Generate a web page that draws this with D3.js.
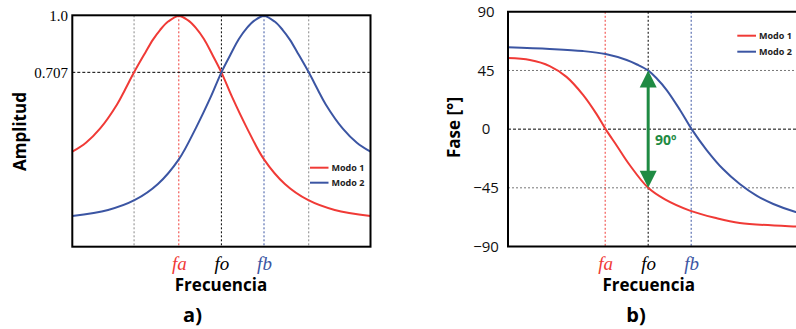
<!DOCTYPE html>
<html><head><meta charset="utf-8">
<script src="https://cdn.jsdelivr.net/npm/d3@7"></script>
<style>
html,body{margin:0;padding:0;background:#fff;}
svg{display:block;}
</style></head>
<body>
<svg id="c" width="796" height="329"></svg>
<script>
// ---------- data ----------
const freqTicks = [-1, 0, 1];
const freqTickLabels = ["fa", "fo", "fb"];
const halfPowerFreqs = [-2.05, 2.05];
const ampTicks = [1.0, 0.707];
const ampTickLabels = ["1.0", "0.707"];
const phaseTicks = [90, 45, 0, -45, -90];
const seriesNames = ["Modo 1", "Modo 2"];

const freqA1 = [-3.5,-3.18,-2.85,-2.45,-2.26,-2.05,-1.79,-1.61,-1.44,-1.25,-1.0,-0.78,-0.6,-0.41,-0.22,0,0.25,0.6,1.0,1.49,2.03,2.66,3.5];
const ampModo1 = [0.294,0.341,0.414,0.540,0.618,0.707,0.808,0.876,0.927,0.971,1.0,0.977,0.938,0.880,0.802,0.707,0.579,0.417,0.254,0.126,0.043,-0.009,-0.040];
const freqA2 = [-3.5,-2.66,-2.03,-1.49,-1.0,-0.6,-0.25,0,0.22,0.41,0.6,0.78,1.0,1.25,1.44,1.61,1.79,2.05,2.26,2.45,2.85,3.18,3.5];
const ampModo2 = [-0.040,-0.009,0.043,0.126,0.254,0.417,0.579,0.707,0.802,0.880,0.938,0.977,1.0,0.971,0.927,0.876,0.808,0.707,0.618,0.540,0.414,0.341,0.294];

const freqB1 = [-3.26,-2.75,-2.29,-1.9,-1.51,-1.2,-0.99,-0.73,-0.43,0,0.39,0.97,1.55,2.13,3.43,3.5];
const phaseModo1 = [54.5,53.0,48.4,40.1,26.1,11.5,0,-12.7,-27.5,-45,-53.9,-62.5,-68,-72,-74.6,-74.7];
const freqB2 = [-3.26,-2.29,-1.52,-0.99,-0.5,-0.26,0,0.2,0.43,0.74,1.01,1.36,1.74,2.13,2.52,2.91,3.43,3.5];
const phaseModo2 = [62.8,61.5,59.9,57.6,53.0,49.6,45,38.8,30.0,14.7,0,-16.0,-30.6,-42.1,-51.0,-57.4,-63.5,-64];

const RED = "#f03a36", BLUE = "#3b55a3", GREEN = "#1f8b43";
const svg = d3.select("#c");

// ---------- panel a ----------
const xa = d3.scaleLinear().domain([-3.5, 3.5]).range([72.3, 370.5]);
const ya = d3.scaleLinear().domain([-0.2, 1.0]).range([246.7, 16]);
const ga = svg.append("g");

ga.selectAll("line.hp").data(halfPowerFreqs).join("line")
  .attr("x1", d => xa(d)).attr("x2", d => xa(d)).attr("y1", 15.3).attr("y2", 246.7)
  .attr("stroke", "#888").attr("stroke-width", 1).attr("stroke-dasharray", "2,2");
ga.selectAll("line.ft").data(freqTicks).join("line")
  .attr("x1", d => xa(d)).attr("x2", d => xa(d)).attr("y1", 15.3).attr("y2", 246.7)
  .attr("stroke", (d, i) => [RED, "#000", BLUE][i]).attr("stroke-width", 1).attr("stroke-dasharray", "2,2");
ga.append("line").attr("x1", xa(-3.5)).attr("x2", xa(3.5)).attr("y1", ya(0.707)).attr("y2", ya(0.707))
  .attr("stroke", "#000").attr("stroke-width", 1).attr("stroke-dasharray", "3,2");

const lineA = d3.line().curve(d3.curveCatmullRom.alpha(0.5)).x(d => xa(d[0])).y(d => ya(d[1]));
ga.append("path").attr("d", lineA(d3.zip(freqA1, ampModo1))).attr("fill", "none").attr("stroke", RED).attr("stroke-width", 2);
ga.append("path").attr("d", lineA(d3.zip(freqA2, ampModo2))).attr("fill", "none").attr("stroke", BLUE).attr("stroke-width", 2);

ga.append("rect").attr("x", 72.3).attr("y", 15.3).attr("width", 370.5 - 72.3).attr("height", 246.7 - 15.3)
  .attr("fill", "none").attr("stroke", "#000").attr("stroke-width", 2);

const axA = ga.append("g").attr("transform", "translate(68,0)")
  .call(d3.axisLeft(ya).tickValues(ampTicks).tickSize(0).tickPadding(0).tickFormat((d, i) => ampTickLabels[i]));
axA.select(".domain").remove();
axA.selectAll("text").attr("font-family", "Liberation Serif, serif").attr("font-size", 15).attr("fill", "#000");

const axAx = ga.append("g").attr("transform", "translate(0,246.7)")
  .call(d3.axisBottom(xa).tickValues(freqTicks).tickSize(0).tickPadding(10).tickFormat((d, i) => freqTickLabels[i]));
axAx.select(".domain").remove();
axAx.selectAll("text").attr("font-family", "Liberation Serif, serif").attr("font-style", "italic").attr("font-size", 19)
  .attr("fill", (d, i) => [RED, "#000", BLUE][i]);

ga.append("text").attr("x", 221).attr("y", 291).attr("text-anchor", "middle")
  .attr("font-family", "Open Sans, sans-serif").attr("font-weight", "bold").attr("font-size", 17).text("Frecuencia");
ga.append("text").attr("transform", "translate(26,131.5) rotate(-90)").attr("text-anchor", "middle")
  .attr("font-family", "Open Sans, sans-serif").attr("font-weight", "bold").attr("font-size", 17).text("Amplitud");
ga.append("text").attr("x", 192.5).attr("y", 322).attr("text-anchor", "middle")
  .attr("font-family", "Open Sans, sans-serif").attr("font-weight", "bold").attr("font-size", 20).text("a)");

const legA = ga.append("g");
seriesNames.forEach((n, i) => {
  const y = 167.7 + i * 15;
  legA.append("line").attr("x1", 310).attr("x2", 328.5).attr("y1", y).attr("y2", y).attr("stroke", [RED, BLUE][i]).attr("stroke-width", 2);
  legA.append("text").attr("x", 331.5).attr("y", y + 3.3).attr("font-family", "Open Sans, sans-serif").attr("font-weight", "bold")
    .attr("font-size", 9).attr("fill", "#222").text(n);
});

// ---------- panel b ----------
const xb = d3.scaleLinear().domain([-3.26, 3.74]).range([508, 809]);
const yb = d3.scaleLinear().domain([-90, 90]).range([246.5, 11.8]);
const gb = svg.append("g");

gb.selectAll("line.h").data([45, 0, -45]).join("line")
  .attr("x1", 508).attr("x2", 809).attr("y1", d => yb(d)).attr("y2", d => yb(d))
  .attr("stroke", d => d === 0 ? "#000" : "#777").attr("stroke-width", 1).attr("stroke-dasharray", d => d === 0 ? "3,2" : "2,2");
gb.selectAll("line.v").data(freqTicks).join("line")
  .attr("x1", d => xb(d)).attr("x2", d => xb(d)).attr("y1", 11.8).attr("y2", 246.5)
  .attr("stroke", (d, i) => [RED, "#000", BLUE][i]).attr("stroke-width", 1).attr("stroke-dasharray", "2,2");

const lineB = d3.line().curve(d3.curveCatmullRom.alpha(0.5)).x(d => xb(d[0])).y(d => yb(d[1]));
gb.append("path").attr("d", lineB(d3.zip(freqB1, phaseModo1))).attr("fill", "none").attr("stroke", RED).attr("stroke-width", 2);
gb.append("path").attr("d", lineB(d3.zip(freqB2, phaseModo2))).attr("fill", "none").attr("stroke", BLUE).attr("stroke-width", 2);

const ax0 = xb(0), yTop = yb(45), yBot = yb(-45);
gb.append("line").attr("x1", ax0).attr("x2", ax0).attr("y1", yTop + 14).attr("y2", yBot - 14)
  .attr("stroke", GREEN).attr("stroke-width", 3);
gb.append("path").attr("d", `M${ax0},${yTop} L${ax0 - 8.5},${yTop + 17} L${ax0 + 8.5},${yTop + 17} Z`).attr("fill", GREEN);
gb.append("path").attr("d", `M${ax0},${yBot} L${ax0 - 8.5},${yBot - 17} L${ax0 + 8.5},${yBot - 17} Z`).attr("fill", GREEN);
gb.append("text").attr("x", 655).attr("y", 145).attr("font-family", "Open Sans, sans-serif").attr("font-weight", "bold")
  .attr("font-size", 14).attr("fill", GREEN).text("90º");

gb.append("path").attr("d", `M809,11.8 L508,11.8 L508,246.5 L809,246.5`).attr("fill", "none").attr("stroke", "#000").attr("stroke-width", 2);

const axB = gb.append("g").attr("transform", "translate(486,0)")
  .call(d3.axisLeft(yb).tickValues(phaseTicks).tickSize(0).tickPadding(0));
axB.select(".domain").remove();
axB.selectAll("text").attr("text-anchor", "middle").attr("font-family", "Open Sans, sans-serif").attr("font-size", 15).attr("fill", "#111");

const axBx = gb.append("g").attr("transform", "translate(0,246.5)")
  .call(d3.axisBottom(xb).tickValues(freqTicks).tickSize(0).tickPadding(10).tickFormat((d, i) => freqTickLabels[i]));
axBx.select(".domain").remove();
axBx.selectAll("text").attr("font-family", "Liberation Serif, serif").attr("font-style", "italic").attr("font-size", 19)
  .attr("fill", (d, i) => [RED, "#000", BLUE][i]);

gb.append("text").attr("x", 648.7).attr("y", 291).attr("text-anchor", "middle")
  .attr("font-family", "Open Sans, sans-serif").attr("font-weight", "bold").attr("font-size", 17).text("Frecuencia");
gb.append("text").attr("transform", "translate(460,127.5) rotate(-90)").attr("text-anchor", "middle")
  .attr("font-family", "Open Sans, sans-serif").attr("font-weight", "bold").attr("font-size", 17).text("Fase [°]");
gb.append("text").attr("x", 636).attr("y", 322).attr("text-anchor", "middle")
  .attr("font-family", "Open Sans, sans-serif").attr("font-weight", "bold").attr("font-size", 20).text("b)");

const legB = gb.append("g");
seriesNames.forEach((n, i) => {
  const y = 35.7 + i * 16;
  legB.append("line").attr("x1", 737.3).attr("x2", 756).attr("y1", y).attr("y2", y).attr("stroke", [RED, BLUE][i]).attr("stroke-width", 2);
  legB.append("text").attr("x", 759).attr("y", y + 3.3).attr("font-family", "Open Sans, sans-serif").attr("font-weight", "bold")
    .attr("font-size", 9).attr("fill", "#222").text(n);
});
</script>
</body></html>
